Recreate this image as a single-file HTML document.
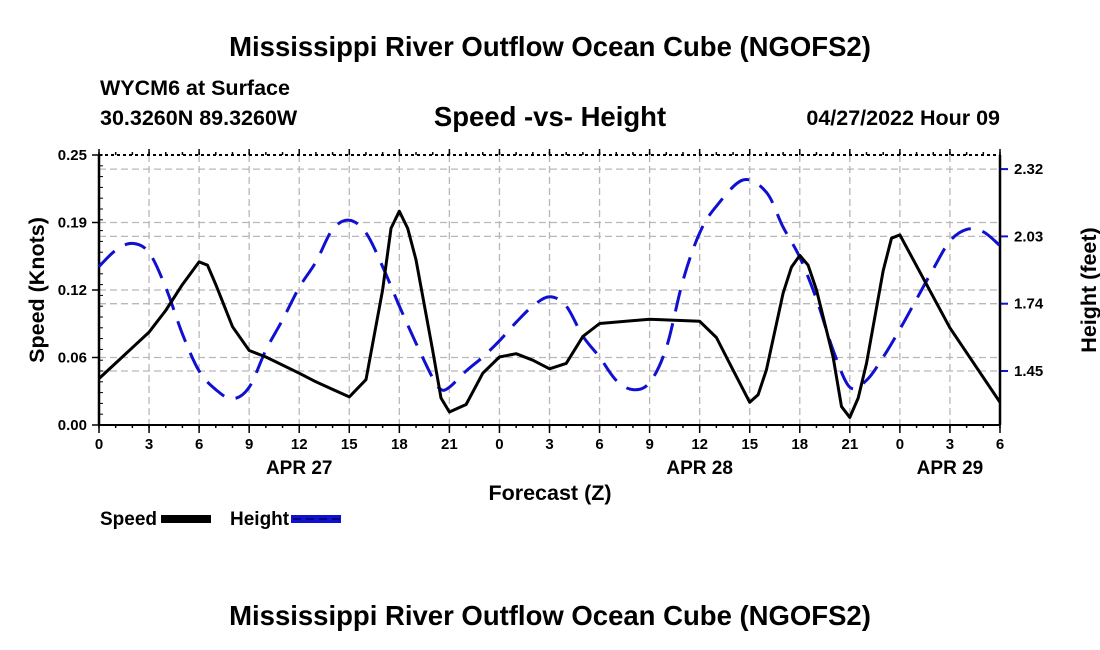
<!DOCTYPE html>
<html><head><meta charset="utf-8"><style>
html,body{margin:0;padding:0;background:#fff}
svg{display:block;font-family:"Liberation Sans",Arial,sans-serif;font-weight:bold}
</style></head><body>
<svg id="chart" width="1100" height="650" viewBox="0 0 1100 650">
<text x="550" y="56" text-anchor="middle" font-size="27.5">Mississippi River Outflow Ocean Cube (NGOFS2)</text>
<text x="100" y="95" font-size="21.5">WYCM6 at Surface</text>
<text x="100" y="125" font-size="21.5">30.3260N  89.3260W</text>
<text x="550" y="126" text-anchor="middle" font-size="27.5">Speed -vs- Height</text>
<text x="1000" y="125" text-anchor="end" font-size="21.5">04/27/2022 Hour 09</text>
<g id="grid"></g>
<g id="axes"></g>
<g id="series"></g>
<text x="550" y="500" text-anchor="middle" font-size="21.5">Forecast (Z)</text>
<text transform="translate(44,290) rotate(-90)" text-anchor="middle" font-size="21.5">Speed (Knots)</text>
<text transform="translate(1089,290) rotate(-90)" text-anchor="middle" dominant-baseline="central" font-size="21.5">Height (feet)</text>
<g>
<text x="100" y="525" font-size="19">Speed</text>
<rect x="161" y="515" width="50" height="8" fill="#000"/>
<text x="230" y="525" font-size="19">Height</text>
<rect x="291" y="515" width="50" height="8" fill="#1010d0"/>
<line x1="293" y1="519" x2="341" y2="519" stroke="#000060" stroke-width="1.5" stroke-dasharray="8,5"/>
</g>
<text x="550" y="625" text-anchor="middle" font-size="27.5">Mississippi River Outflow Ocean Cube (NGOFS2)</text>
</svg>
<script>
const xTickLabels=["0","3","6","9","12","15","18","21","0","3","6","9","12","15","18","21","0","3","6"];
const dayLabels=["APR 27","APR 28","APR 29"];
const dayLabelHours=[12,36,51];
const leftTicks=[0,0.0625,0.125,0.1875,0.25];
const leftTickLabels=["0.00","0.06","0.12","0.19","0.25"];
const rightTicks=[1.45,1.74,2.03,2.32];
const rightTickLabels=["1.45","1.74","2.03","2.32"];
const speedHours=[0,3,4,5,6,6.5,7,8,9,10,12,13,14,15,16,17,17.5,18,18.5,19,20,20.5,21,22,23,24,25,26,27,28,29,30,33,36,37,38,39,39.5,40,41,41.5,42,42.5,43,44,44.5,45,45.5,46,47,47.5,48,51,54];
const speedValues=[0.043,0.086,0.106,0.13,0.151,0.148,0.13,0.091,0.069,0.063,0.048,0.04,0.033,0.026,0.042,0.125,0.182,0.198,0.182,0.153,0.069,0.025,0.012,0.019,0.048,0.063,0.066,0.06,0.052,0.057,0.082,0.094,0.098,0.096,0.081,0.051,0.021,0.028,0.051,0.122,0.146,0.157,0.148,0.125,0.063,0.017,0.007,0.025,0.057,0.143,0.173,0.176,0.09,0.021];
const heightHours=[0,1,2,3,4,5,6,7,8,9,10,11,12,13,14,15,16,17,18,19,20,20.5,21,22,23,24,25,26,27,28,29,30,31,32,33,34,35,36,37,38.6,40,41,42,43,44,45,46,47,48,49,50,51,52,53,54];
const heightValues=[1.9,1.97,2.0,1.96,1.81,1.61,1.45,1.37,1.33,1.38,1.54,1.67,1.81,1.92,2.06,2.1,2.045,1.9,1.73,1.57,1.42,1.37,1.38,1.45,1.51,1.58,1.66,1.73,1.77,1.73,1.6,1.51,1.41,1.37,1.4,1.55,1.84,2.045,2.16,2.273,2.22,2.07,1.94,1.76,1.54,1.38,1.41,1.51,1.63,1.76,1.89,2.01,2.06,2.05,1.99];

const L=99,R=1000,T=155,B=425,NS="http://www.w3.org/2000/svg";
const xs=h=>L+(R-L)*h/54;
const ys=v=>B-(B-T)*v/0.25;
const yh=f=>371-(f-1.45)*67.3/0.29;
function mk(tag,attrs,parent){const e=document.createElementNS(NS,tag);for(const k in attrs)e.setAttribute(k,attrs[k]);parent.appendChild(e);return e;}
const grid=document.getElementById('grid'),axes=document.getElementById('axes'),series=document.getElementById('series');
const gs={stroke:"#b8b8b8","stroke-width":1.3,"stroke-dasharray":"7,4",fill:"none"};
xTickLabels.forEach((t,i)=>{const x=xs(i*3);
 if(i>0&&i<xTickLabels.length-1){const g=mk('line',Object.assign({x1:x,x2:x,y1:T,y2:B},gs),grid);
 
 }
 const tx=mk('text',{x:x,y:B+24,"text-anchor":"middle","font-size":15},axes);tx.textContent=t;
 
 
 mk('line',{x1:x,x2:x,y1:B,y2:B+8,stroke:"#000","stroke-width":1.5},axes);
 mk('line',{x1:x,x2:x,y1:T,y2:T-6,stroke:"#000","stroke-width":1.5},axes);
});
for(let h=0;h<=54;h++){const x=xs(h);
 mk('line',{x1:x,x2:x,y1:B,y2:B+3,stroke:"#000","stroke-width":1.5},axes);
 mk('line',{x1:x,x2:x,y1:T,y2:T-3,stroke:"#000","stroke-width":1.5},axes);}
dayLabels.forEach((d,i)=>{const t=mk('text',{x:xs(dayLabelHours[i]),y:B+49,"text-anchor":"middle","font-size":19},axes);t.textContent=d;
 
 });
leftTicks.forEach((v,i)=>{const y=ys(v);
 if(i>0&&i<leftTicks.length-1){const g=mk('line',Object.assign({x1:L,x2:R,y1:y,y2:y},gs),grid);
 
 }
 mk('line',{x1:L-7,x2:L,y1:y,y2:y,stroke:"#000","stroke-width":1.5},axes);
 const t=mk('text',{x:L-12,y:y+5,"text-anchor":"end","font-size":15},axes);t.textContent=leftTickLabels[i];
 
 });
for(let k=0;k<=25;k++){const y=ys(k*0.01);mk('line',{x1:L,x2:L+4,y1:y,y2:y,stroke:"#000","stroke-width":1},axes);}
rightTicks.forEach((f,i)=>{const y=yh(f);
 const g=mk('line',Object.assign({x1:L,x2:R,y1:y,y2:y},gs),grid);
 
 
 mk('line',{x1:R,x2:R+8,y1:y,y2:y,stroke:"#1010d0","stroke-width":2},axes);
 const t=mk('text',{x:R+14,y:y+5,"font-size":15},axes);t.textContent=rightTickLabels[i];
 
 });
mk('line',{x1:L,x2:R,y1:B,y2:B,stroke:"#000","stroke-width":2},axes);
mk('line',{x1:L,x2:R,y1:T,y2:T,stroke:"#000","stroke-width":2,"stroke-dasharray":"3,3"},axes);
mk('line',{x1:L,x2:L,y1:T,y2:B,stroke:"#000","stroke-width":2.5},axes);
mk('line',{x1:R,x2:R,y1:T,y2:B,stroke:"#000","stroke-width":2.5},axes);
function smooth(pts){let d="M"+pts[0][0]+","+pts[0][1];
 for(let i=0;i<pts.length-1;i++){const p0=pts[Math.max(0,i-1)],p1=pts[i],p2=pts[i+1],p3=pts[Math.min(pts.length-1,i+2)];
 const c1=[p1[0]+(p2[0]-p0[0])/6,p1[1]+(p2[1]-p0[1])/6],c2=[p2[0]-(p3[0]-p1[0])/6,p2[1]-(p3[1]-p1[1])/6];
 d+=" C"+c1[0].toFixed(1)+","+c1[1].toFixed(1)+" "+c2[0].toFixed(1)+","+c2[1].toFixed(1)+" "+p2[0].toFixed(1)+","+p2[1].toFixed(1);}
 return d;}
function linear(pts){return "M"+pts.map(p=>p[0].toFixed(1)+","+p[1].toFixed(1)).join(" L");}
const hp=mk('path',{d:smooth(heightHours.map((h,i)=>[xs(h),yh(heightValues[i])])),fill:"none",stroke:"#1010d0","stroke-width":3,"stroke-dasharray":"22,12"},series);


const sp=mk('path',{d:linear(speedHours.map((h,i)=>[xs(h),ys(speedValues[i])])),fill:"none",stroke:"#000","stroke-width":3,"stroke-linejoin":"round"},series);


</script>
</body></html>
